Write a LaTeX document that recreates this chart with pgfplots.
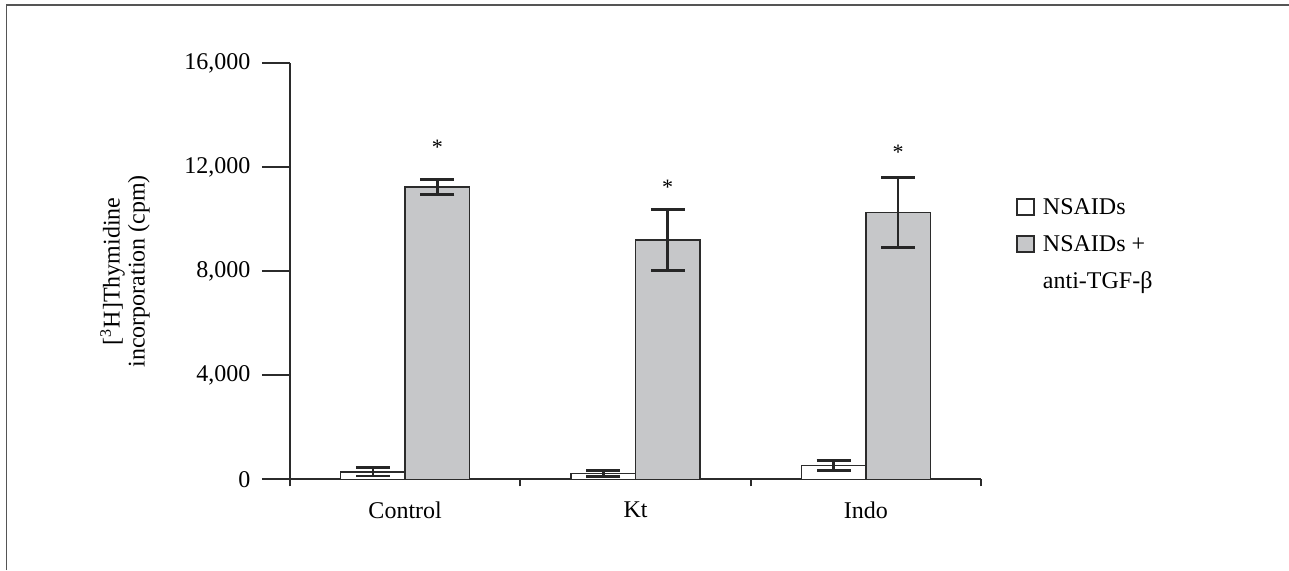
\documentclass[border=0pt]{standalone}
\usepackage{fontspec}
\setmainfont{Liberation Serif}
\usepackage{pgfplots}
\pgfplotsset{compat=1.18}
\usepackage{pgfplotstable}
\definecolor{axisgray}{HTML}{2B2B2B}
\definecolor{bargray}{HTML}{C6C7C9}
\pgfplotstableread{
x y err
0 290 160
1 215 115
2 530 190
}\nsaids
\pgfplotstableread{
x y err
0 11240 300
1 9200 1170
2 10270 1340
}\antitgf
\begin{document}
\begin{tikzpicture}
\begin{axis}[
  at={(0,0)}, anchor=south west,
  scale only axis,
  width=345.5pt, height=208pt,
  xmin=-0.5, xmax=2.5, ymin=0, ymax=16000,
  axis lines*=left,
  axis line style={axisgray, line width=1.1pt},
  tick align=outside,
  xtick={-0.5,0.5,1.5,2.5},
  xticklabels={Control,Kt,Indo},
  x tick label as interval,
  xtick style={axisgray, line width=1.1pt, /pgfplots/major tick length=3.5pt},
  ytick={0,4000,8000,12000,16000},
  ytick style={axisgray, line width=1.1pt, /pgfplots/major tick length=14pt},
  scaled y ticks=false,
  /pgf/number format/1000 sep={,},
  /pgf/number format/assume math mode=true,
  tick label style={font=\fontsize{12}{14}\selectfont, black},
  yticklabel style={xshift=-12pt},
  xticklabel style={yshift=-3.5pt},
  ylabel={[\textsuperscript{3}H]Thymidine\\incorporation (cpm)},
  y label style={at={([xshift=-82.5pt]axis description cs:0,0.5)}, anchor=center, align=center, font=\fontsize{12}{12.5}\selectfont},
  ybar=0pt, bar width=32.25pt,
  legend style={draw=none, at={(1.045,0.563)}, anchor=west, font=\fontsize{12}{14}\selectfont, row sep=5pt, inner sep=2pt},
  legend cell align=left,
  legend image code/.code={\draw[#1, fill] (0pt,-3.75pt) rectangle (8.5pt,4.25pt); \path (10.5pt,0pt);},
  clip=false,
]
\addplot[draw=axisgray, fill=white, line width=0.75pt,
  error bars/.cd, y dir=both, y explicit,
  error bar style={line width=1.4pt, color=black!85},
  error mark options={rotate=90, line width=1.4pt, mark size=8.5pt, color=black!85}]
  table[x=x, y=y, y error=err] {\nsaids};
\addlegendentry{NSAIDs}
\addplot[draw=axisgray, fill=bargray, line width=0.75pt,
  error bars/.cd, y dir=both, y explicit,
  error bar style={line width=1.4pt, color=black!85},
  error mark options={rotate=90, line width=1.4pt, mark size=8.5pt, color=black!85}]
  table[x=x, y=y, y error=err] {\antitgf};
\addlegendentry{NSAIDs +}
\addlegendimage{empty legend}
\addlegendentry{anti-TGF-β}
\node[font=\fontsize{11}{13}\selectfont] at (axis cs:0.14,12780) {*};
\node[font=\fontsize{11}{13}\selectfont] at (axis cs:1.14,11240) {*};
\node[font=\fontsize{11}{13}\selectfont] at (axis cs:2.14,12590) {*};
\end{axis}
\draw[axisgray!80, line width=0.75pt] (-141.75pt,-45.35pt) -- (-141.75pt,237.15pt) -- (499.5pt,237.15pt);
\pgfresetboundingbox
\useasboundingbox (-145pt,-45.35pt) rectangle (499.5pt,239.65pt);
\end{tikzpicture}
\end{document}
